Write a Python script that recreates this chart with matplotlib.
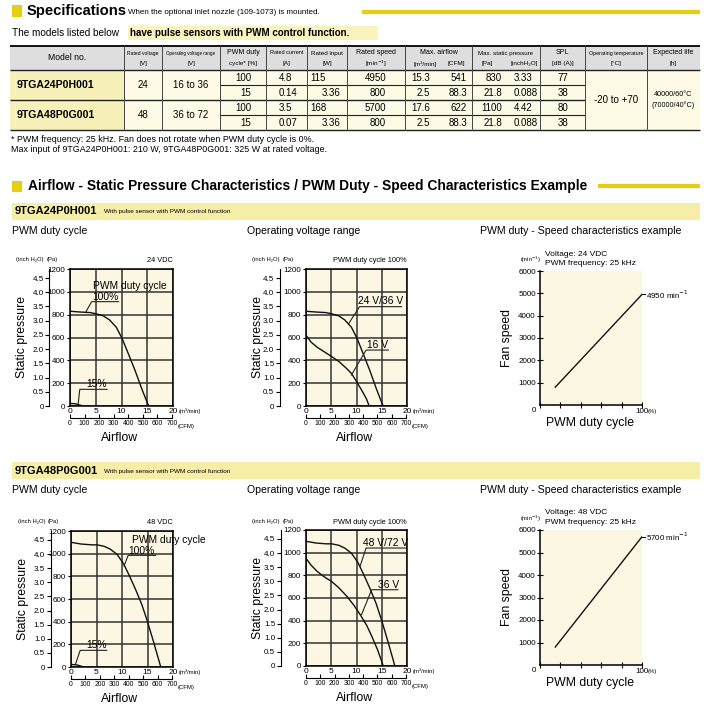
import numpy as np
import matplotlib
matplotlib.use("Agg")
import matplotlib.pyplot as plt
from matplotlib.patches import Rectangle

W, H = 704, 705
REG = ['Liberation Sans', 'DejaVu Sans']
plt.rcParams['font.family'] = REG

YEL = '#e5cf12'
BAND = '#f6eda6'
CHART_BG = '#fcf7e2'
CELL_BG = '#fdfae6'
MODEL_BG = '#f7f0b8'
HEAD_BG = '#dedede'

# ---------------- table data ----------------
head_top = ['Model no.', 'Rated voltage', 'Operating voltage range', 'PWM duty', 'Rated current',
            'Rated input', 'Rated speed', 'Max. airflow', 'Max. static pressure', 'SPL',
            'Operating temperature', 'Expected life']
head_bot = ['', '[V]', '[V]', 'cycle* [%]', '[A]', '[W]', '[min$^{-1}$]', '', '', '[dB (A)]', '[°C]', '[h]']
models = ['9TGA24P0H001', '9TGA48P0G001']
rated_voltage = ['24', '48']
op_range = ['16 to 36', '36 to 72']
pwm_duty = ['100', '15', '100', '15']
rated_current = ['4.8', '0.14', '3.5', '0.07']
rated_input = ['115', '3.36', '168', '3.36']
rated_speed = ['4950', '800', '5700', '800']
airflow_m3 = ['15.3', '2.5', '17.6', '2.5']
airflow_cfm = ['541', '88.3', '622', '88.3']
static_pa = ['830', '21.8', '1100', '21.8']
static_inch = ['3.33', '0.088', '4.42', '0.088']
spl = ['77', '38', '80', '38']
op_temp = '-20 to +70'
life = ['40000/60°C', '(70000/40°C)']

# ---------------- curve data (airflow m3/min, pressure Pa) ----------------
af_24_100 = [0, 2, 4, 5.2, 6.5, 7.7, 9, 10.1, 11.3, 12.6, 13.9, 15.1, 15.3]
pa_24_100 = [830, 823, 818, 806, 789, 753, 689, 593, 461, 315, 155, 18, 0]
af_15 = [0, 1, 1.8, 2.5]
pa_15 = [22, 20, 10, 0]
af_16v = [0, 1, 2.2, 3.5, 5, 6.5, 8, 9, 10, 11, 12, 12.5]
pa_16v = [620, 560, 515, 478, 435, 390, 330, 285, 215, 140, 60, 0]
af_48_100 = [0, 2, 4, 5.1, 6.5, 7.7, 9, 10.3, 11.5, 12.7, 13.9, 15, 16.2, 17.6]
pa_48_100 = [1100, 1085, 1078, 1078, 1065, 1040, 995, 912, 800, 680, 550, 400, 220, 0]
af_36v = [0, 1, 2.2, 3.5, 5.1, 6.5, 8.1, 9.5, 10.7, 12, 13, 14.2, 15.3]
pa_36v = [950, 890, 835, 790, 745, 690, 615, 535, 455, 360, 265, 140, 0]
duty = [15, 100]
speed_24 = [800, 4950]
speed_48 = [800, 5700]

airflow_ticks = [0, 5, 10, 15, 20]
pa_ticks = [0, 200, 400, 600, 800, 1000, 1200]
inch_ticks = [0, 0.5, 1.0, 1.5, 2.0, 2.5, 3.0, 3.5, 4.0, 4.5]
inch_labels = ['0', '0.5', '1.0', '1.5', '2.0', '2.5', '3.0', '3.5', '4.0', '4.5']
cfm_ticks = [0, 100, 200, 300, 400, 500, 600, 700]
speed_ticks = [1000, 2000, 3000, 4000, 5000, 6000]
duty_ticks = [0, 20, 40, 60, 80, 100]

fig = plt.figure(figsize=(7.04, 7.05), dpi=100)
bg = fig.add_axes([0, 0, 1, 1])
bg.set_xlim(0, W)
bg.set_ylim(H, 0)
bg.axis('off')


def rect(x0, y0, x1, y1, c, **kw):
    bg.add_patch(Rectangle((x0, y0), x1 - x0, y1 - y0, facecolor=c, edgecolor='none', **kw))


def hline(y, x0, x1, c='#222222', lw=1.0):
    bg.plot([x0, x1], [y, y], color=c, lw=lw, solid_capstyle='butt')


# ---------------- Specifications header ----------------
rect(12, 5, 22, 17, YEL)
bg.text(27, 11, 'Specifications', fontsize=10.6, fontweight='bold', va='center')
bg.text(128, 12, 'When the optional inlet nozzle (109-1073) is mounted.', fontsize=5.8, va='center')
hline(12, 362, 700, c=YEL, lw=3)

rect(128, 26, 378, 40, '#faf3bd')
bg.text(12, 33, 'The models listed below ', fontsize=7.2, va='center')
bg.text(130, 33, 'have pulse sensors with PWM control function.', fontsize=7.0, va='center',
        fontweight='bold')

# ---------------- table ----------------
cols = [10, 124, 162, 220, 266, 307, 347, 405, 472, 540, 585, 647, 700]
rows = [46, 70, 85, 100, 115, 130]
rect(cols[0], rows[0], cols[-1], rows[1], HEAD_BG)
rect(cols[0], rows[1], cols[1], rows[-1], MODEL_BG)
rect(cols[1], rows[1], cols[-1], rows[-1], CELL_BG)

hline(rows[0], cols[0], cols[-1], c='#111111', lw=1.4)
hline(rows[1], cols[0], cols[-1], lw=1.0)
hline(rows[2], cols[3], cols[10], lw=0.8)
hline(rows[3], cols[0], cols[10], lw=1.0)
hline(rows[4], cols[3], cols[10], lw=0.8)
hline(rows[5], cols[0], cols[-1], lw=1.0)
for cx in cols[1:-1]:
    bg.plot([cx, cx], [rows[0], rows[-1]], color='#444444', lw=0.7)

for i, (t, b) in enumerate(zip(head_top, head_bot)):
    cx = (cols[i] + cols[i + 1]) / 2
    if i == 0:
        bg.text(cx, 58, t, fontsize=6.2, ha='center', va='center')
    else:
        # shrink long headers so they stay inside their column
        fs = min(5.0, (cols[i + 1] - cols[i] - 4) / (len(t) * 0.72))
        bg.text(cx, 53, t, fontsize=fs, ha='center', va='center')
        bg.text(cx, 64, b, fontsize=4.6, ha='center', va='center')
bg.text(425, 64, '[m³/min]', fontsize=4.6, ha='center', va='center')
bg.text(456, 64, '[CFM]', fontsize=4.6, ha='center', va='center')
bg.text(487, 64, '[Pa]', fontsize=4.6, ha='center', va='center')
bg.text(524, 64, '[inchH₂O]', fontsize=4.6, ha='center', va='center')

vs = 7.0
for m in range(2):
    ym = (rows[1 + 2 * m] + rows[3 + 2 * m]) / 2
    bg.text(17, ym, models[m], fontsize=7.6, fontweight='bold', va='center')
    bg.text((cols[1] + cols[2]) / 2, ym, rated_voltage[m], fontsize=vs, ha='center', va='center')
    bg.text((cols[2] + cols[3]) / 2, ym, op_range[m], fontsize=vs, ha='center', va='center')
for r in range(4):
    yr = (rows[1 + r] + rows[2 + r]) / 2 + 0.5
    bg.text(251, yr, pwm_duty[r], fontsize=vs, ha='right', va='center')
    bg.text(279, yr, rated_current[r], fontsize=vs, ha='left', va='center')
    if r % 2 == 0:
        bg.text(310, yr, rated_input[r], fontsize=vs, ha='left', va='center')
    else:
        bg.text(341, yr, rated_input[r], fontsize=vs, ha='right', va='center')
    bg.text(386, yr, rated_speed[r], fontsize=vs, ha='right', va='center')
    bg.text(430, yr, airflow_m3[r], fontsize=vs, ha='right', va='center')
    bg.text(467, yr, airflow_cfm[r], fontsize=vs, ha='right', va='center')
    bg.text(502, yr, static_pa[r], fontsize=vs, ha='right', va='center')
    bg.text(514, yr, static_inch[r], fontsize=vs, ha='left', va='center')
    bg.text(563, yr, spl[r], fontsize=vs, ha='center', va='center')
bg.text((cols[10] + cols[11]) / 2, 100, op_temp, fontsize=vs, ha='center', va='center')
bg.text((cols[11] + cols[12]) / 2, 94, life[0], fontsize=5.2, ha='center', va='center')
bg.text((cols[11] + cols[12]) / 2, 105, life[1], fontsize=5.2, ha='center', va='center')

bg.text(11, 139, '* PWM frequency: 25 kHz. Fan does not rotate when PWM duty cycle is 0%.',
        fontsize=6.4, va='center')
bg.text(11, 150, 'Max input of 9TGA24P0H001: 210 W, 9TGA48P0G001: 325 W at rated voltage.',
        fontsize=6.4, va='center')

# ---------------- section 2 header ----------------
rect(12, 181, 22, 192, YEL)
bg.text(28, 186, 'Airflow - Static Pressure Characteristics / PWM Duty - Speed Characteristics Example',
        fontsize=9.9, fontweight='bold', va='center')
hline(186, 598, 700, c=YEL, lw=3)

for yb, name in [(203, models[0]), (462, models[1])]:
    rect(12, yb, 700, yb + 17, BAND)
    bg.text(15, yb + 8.5, name, fontsize=8, fontweight='bold', va='center')
    bg.text(104, yb + 9, 'With pulse sensor with PWM control function', fontsize=4.6, va='center')
    ys = yb + 28
    bg.text(12, ys, 'PWM duty cycle', fontsize=7.6, va='center')
    bg.text(247, ys, 'Operating voltage range', fontsize=7.6, va='center')
    bg.text(480, ys, 'PWM duty - Speed characteristics example', fontsize=7.6, va='center')


def pa_to_inch(p):
    return p / 249.09


def inch_to_pa(i):
    return i * 249.09


def m3_to_cfm(q):
    return q * 35.315


def cfm_to_m3(c):
    return c / 35.315


def add_ax(x0, y0, x1, y1):
    return fig.add_axes([x0 / W, 1 - y1 / H, (x1 - x0) / W, (y1 - y0) / H])


def pressure_chart(x0, y0, x1, y1, inch_off, note, note_x, note_ha):
    ax = add_ax(x0, y0, x1, y1)
    ax.set_facecolor(CHART_BG)
    ax.set_xlim(0, 20)
    ax.set_ylim(0, 1200)
    ax.set_xticks(airflow_ticks)
    ax.set_yticks(pa_ticks)
    ax.set_xticklabels([str(t) for t in airflow_ticks])
    ax.grid(True, color='#333333', lw=1.1)
    ax.tick_params(axis='y', direction='out', length=2.5, width=0.8, pad=1, labelsize=5.8)
    ax.tick_params(axis='x', length=0, pad=1.5, labelsize=6.0)
    for s in ax.spines.values():
        s.set_linewidth(1.1)
    sy = ax.secondary_yaxis(inch_off, functions=(pa_to_inch, inch_to_pa))
    sy.set_yticks(inch_ticks)
    sy.set_yticklabels(inch_labels)
    sy.tick_params(direction='out', length=3, width=0.8, pad=1, labelsize=5.8)
    sy.spines['left'].set_linewidth(0.8)
    sx = ax.secondary_xaxis(-0.085, functions=(m3_to_cfm, cfm_to_m3))
    sx.set_xticks(cfm_ticks)
    sx.set_xticklabels([str(t) for t in cfm_ticks])
    sx.tick_params(direction='in', length=3, width=0.8, pad=1.5, labelsize=4.9)
    sx.spines['bottom'].set_linewidth(0.8)
    sx.spines['bottom'].set_bounds(0, 700)
    xm = (x0 + x1) / 2
    bg.text(x0 - 26, y0 - 9, '(inch H₂O)', fontsize=4.2, ha='right', va='center')
    bg.text(x0 - 23, y0 - 9, '(Pa)', fontsize=4.2, ha='left', va='center')
    bg.text(note_x, y0 - 8, note, fontsize=5.3, ha=note_ha, va='center')
    bg.text(x1 + 6, y1 + 5.5, '(m³/min)', fontsize=4.3, va='center')
    bg.text(x1 + 5, y1 + 20.5, '(CFM)', fontsize=4.3, va='center')
    bg.text(x0 - 48, (y0 + y1) / 2, 'Static pressure', fontsize=8.8, rotation=90,
            ha='center', va='center')
    bg.text(xm - 2, y1 + 32, 'Airflow', fontsize=8.8, ha='center', va='center')
    return ax


def leader(ax, label, tx, ty, ux0, ux1, uy, px, py, fs=7.4):
    ax.text(tx, ty, label, fontsize=fs, ha='center', va='center', clip_on=False, zorder=5)
    ax.plot([px, ux0, ux1], [py, uy, uy], color='#222222', lw=0.8, clip_on=False, zorder=5)


def speed_chart(x0, y0, x1, y1, speed, volt):
    ax = add_ax(x0, y0, x1, y1)
    ax.set_facecolor(CHART_BG)
    ax.set_xlim(0, 100)
    ax.set_ylim(0, 6000)
    ax.spines['top'].set_visible(False)
    ax.spines['right'].set_visible(False)
    ax.spines['left'].set_linewidth(1.1)
    ax.spines['bottom'].set_linewidth(1.1)
    ax.set_yticks(speed_ticks)
    ax.set_yticklabels([str(t) for t in speed_ticks])
    ax.set_xticks(duty_ticks)
    ax.set_xticklabels(['', '', '', '', '', '100'])
    ax.tick_params(direction='inout', length=4, width=0.8, pad=1, labelsize=5.8)
    ax.tick_params(axis='x', pad=0)
    ax.plot(duty, speed, color='#111111', lw=1.0)
    ax.plot([duty[-1], duty[-1] + 2.5], [speed[-1], speed[-1]], color='#111111', lw=0.8, clip_on=False)
    ax.text(duty[-1] + 4, speed[-1], '%d min$^{-1}$' % speed[-1], fontsize=5.8, va='center', clip_on=False)
    bg.text(x0 - 6, y1 + 6, '0', fontsize=5.8, ha='center', va='center')
    bg.text(x1 + 6, y1 + 6.5, '(%)', fontsize=4.2, va='center')
    bg.text(x0 - 20, y0 - 11, '(min$^{-1}$)', fontsize=4.2, va='center')
    bg.text(x0 + 5, y0 - 17, 'Voltage: %s VDC' % volt, fontsize=6.0, va='center')
    bg.text(x0 + 5, y0 - 7.5, 'PWM frequency: 25 kHz', fontsize=6.0, va='center')
    bg.text(x0 - 33, (y0 + y1) / 2, 'Fan speed', fontsize=8.8, rotation=90, ha='center', va='center')
    bg.text((x0 + x1) / 2 - 1, y1 + 18, 'PWM duty cycle', fontsize=8.8, ha='center', va='center')
    return ax


# ---- 9TGA24P0H001 ----
a1 = pressure_chart(70, 269, 173, 406, -0.2, '24 VDC', 173, 'right')
a1.plot(af_24_100, pa_24_100, color='#111111', lw=1.0, zorder=4)
a1.plot(af_15, pa_15, color='#111111', lw=1.0, zorder=4)
a1.text(11.6, 1051, 'PWM duty cycle', fontsize=7.4, ha='center', va='center', clip_on=False, zorder=5)
leader(a1, '100%', 6.8, 958, 4.2, 9.4, 914, 3.1, 826)
leader(a1, '15%', 5.2, 190, 1.9, 7.2, 146, 1.6, 23)

a2 = pressure_chart(306, 269, 407, 406, -0.26, 'PWM duty cycle 100%', 370, 'center')
a2.plot(af_24_100, pa_24_100, color='#111111', lw=1.0, zorder=4)
a2.plot(af_16v, pa_16v, color='#111111', lw=1.0, zorder=4)
leader(a2, '24 V/36 V', 14.7, 922, 10.6, 18.9, 870, 8.4, 718)
leader(a2, '16 V', 14.1, 534, 11.9, 16.3, 490, 9.0, 272)

speed_chart(540, 271, 642, 405, speed_24, '24')

# ---- 9TGA48P0G001 ----
a4 = pressure_chart(71, 531, 173, 667, -0.2, '48 VDC', 173, 'right')
a4.plot(af_48_100, pa_48_100, color='#111111', lw=1.0, zorder=4)
a4.plot(af_15, pa_15, color='#111111', lw=1.0, zorder=4)
a4.text(19.1, 1123, 'PWM duty cycle', fontsize=7.4, ha='center', va='center', clip_on=False, zorder=5)
leader(a4, '100%', 13.9, 1020, 11.2, 16.6, 985, 10.4, 891)
leader(a4, '15%', 5.1, 197, 1.8, 7.0, 147, 0.85, 20)

a5 = pressure_chart(306, 530, 407, 666, -0.25, 'PWM duty cycle 100%', 370, 'center')
a5.plot(af_48_100, pa_48_100, color='#111111', lw=1.0, zorder=4)
a5.plot(af_36v, pa_36v, color='#111111', lw=1.0, zorder=4)
leader(a5, '48 V/72 V', 15.8, 1085, 11.9, 19.7, 1041, 10.7, 879)
leader(a5, '36 V', 16.3, 718, 13.0, 18.2, 673, 11.0, 453)

speed_chart(540, 530, 642, 665, speed_48, '48')

fig.savefig('out.png', dpi=100)
